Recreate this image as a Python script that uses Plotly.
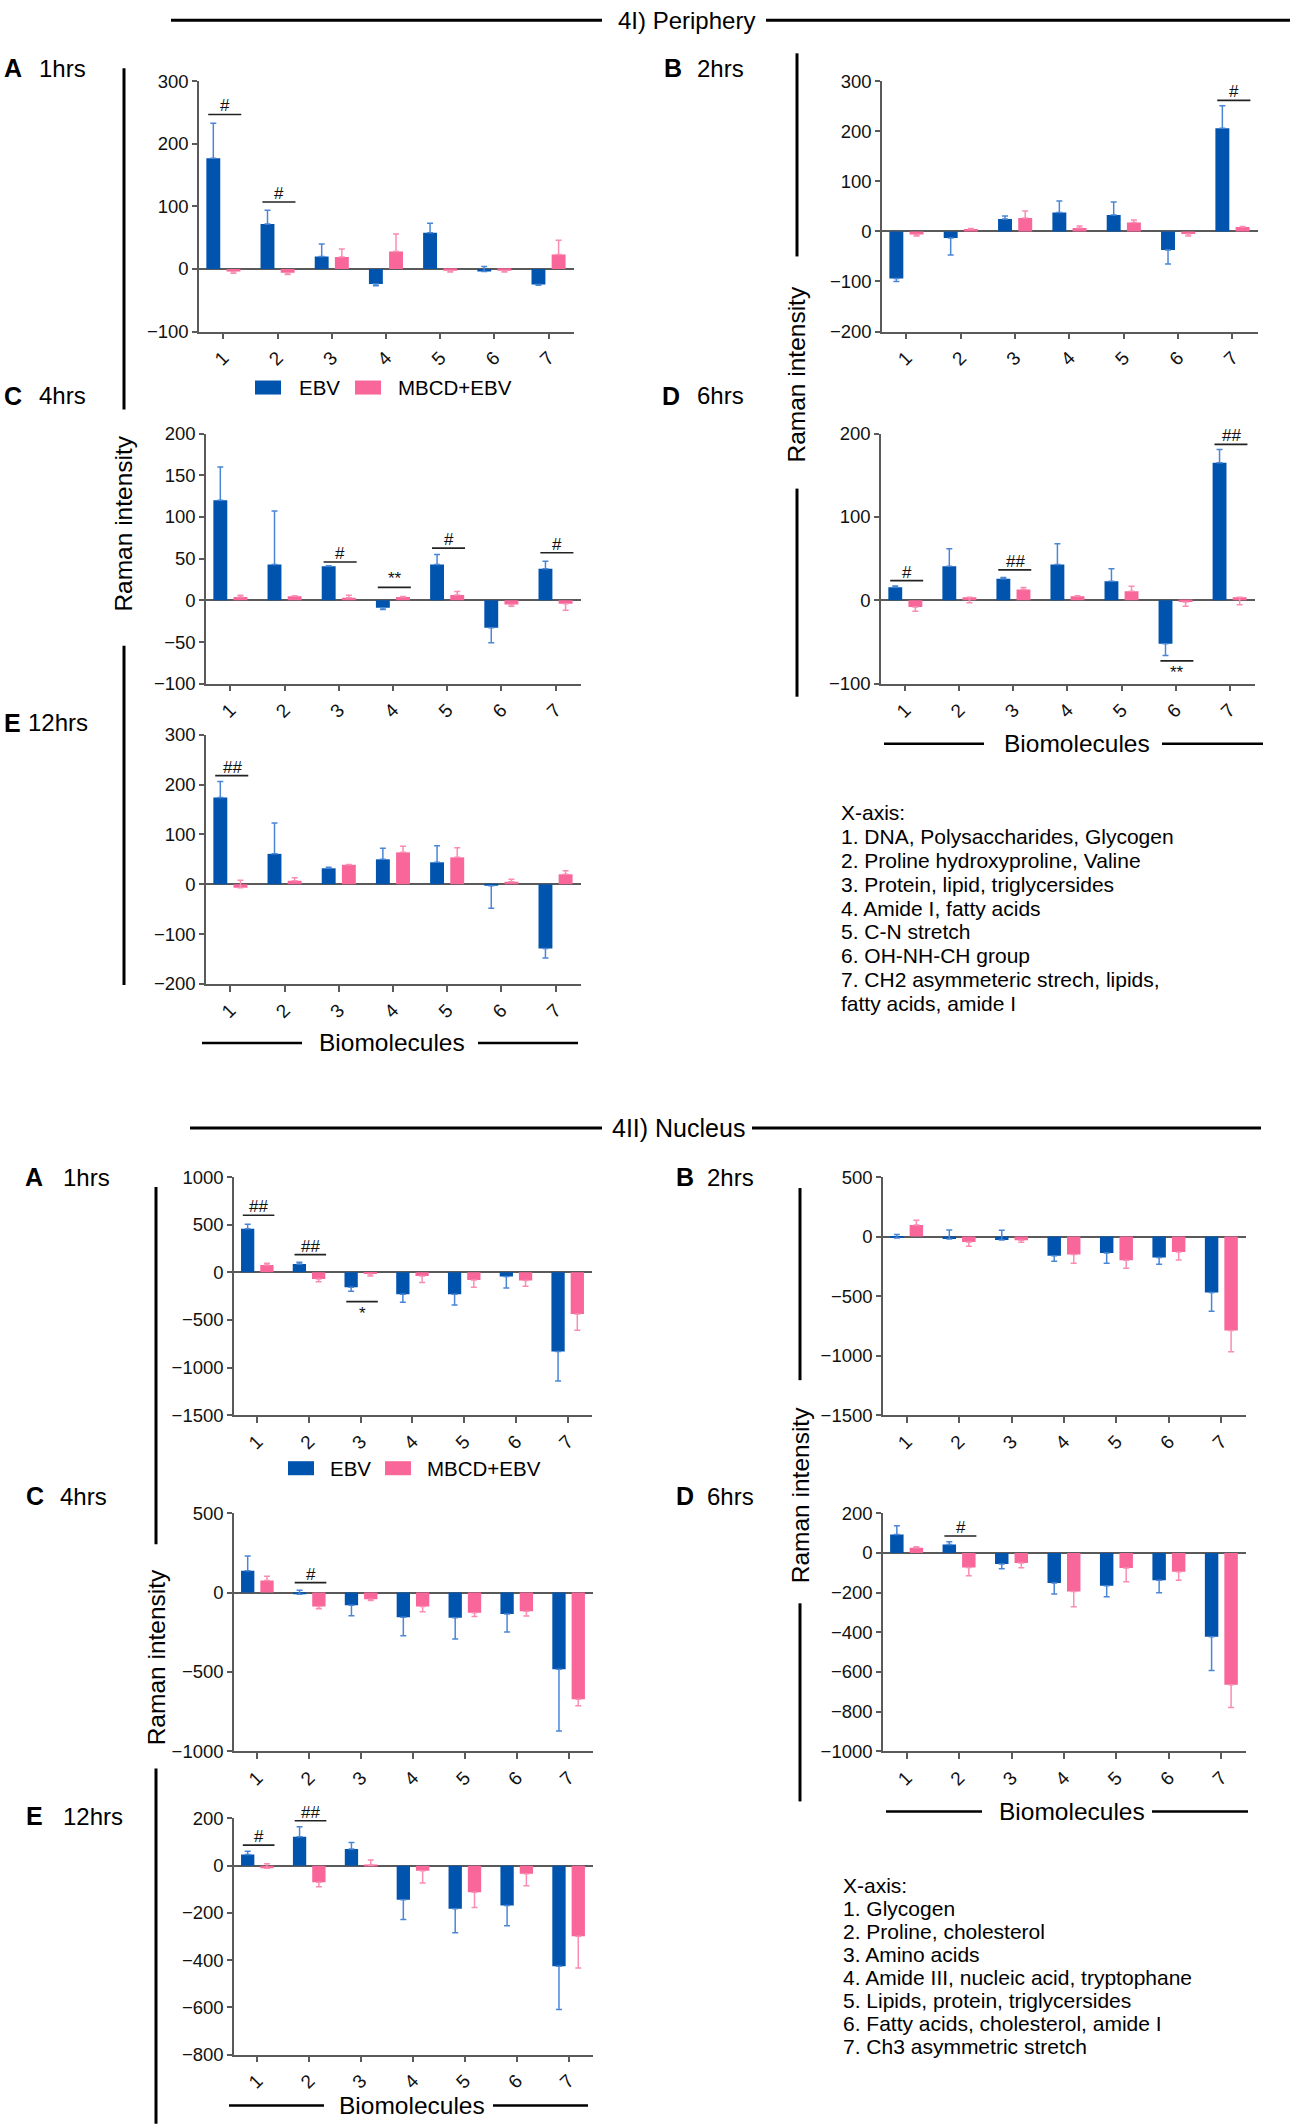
import plotly.graph_objects as go

# target canvas (reference) size
W, H = 1293, 2126
FW, FH = W, H
# measured vertical mapping of the page photo: shown_y = RS * fig_y + RO
RS, RO = 0.9895, 10.7

CATS = [1, 2, 3, 4, 5, 6, 7]
TICK_LABELS = ["1", "2", "3", "4", "5", "6", "7"]
SERIES = ["EBV", "MBCD+EBV"]

# ---------------- 4I) Periphery ----------------
PER_1H_EBV = [177, 72, 20, -24, 58, -4, -25]
PER_1H_EBV_ERR = [56, 22, 20, -3, 15, 8, -1]
PER_1H_MB = [-4, -6, 19, 28, -3, -3, 23]
PER_1H_MB_ERR = [-3, -3, 13, 28, -2, -2, 23]

PER_2H_EBV = [-94, -13, 25, 38, 33, -37, 206]
PER_2H_EBV_ERR = [-6, -34, 6, 23, 26, -28, 45]
PER_2H_MB = [-6, 5, 27, 7, 18, -5, 9]
PER_2H_MB_ERR = [-3, 1, 14, 4, 5, -4, 1]

PER_4H_EBV = [120, 43, 41, -9, 43, -33, 38]
PER_4H_EBV_ERR = [40, 64, 0.5, -2, 12, -18, 9]
PER_4H_MB = [4, 5, 3, 4, 6.5, -5, -4]
PER_4H_MB_ERR = [2, 0.5, 3, 0.5, 4, -2, -8]

PER_6H_EBV = [15.6, 41, 26, 43, 23, -52, 165]
PER_6H_EBV_ERR = [1.5, 21, 1.5, 25, 15, -14, 16]
PER_6H_MB = [-8, 3.6, 13, 5, 11, -2, 3.6]
PER_6H_MB_ERR = [-5, -6.6, 2.5, 0.6, 6, -5, -9]

PER_12H_EBV = [174, 61, 32, 50, 44, -3, -129]
PER_12H_EBV_ERR = [32, 62, 2, 22, 33, -45, -19]
PER_12H_MB = [-7, 7, 39, 64, 54, 5, 20]
PER_12H_MB_ERR = [15, 6, 0.5, 12, 19, 5, 7]

# ---------------- 4II) Nucleus ----------------
NUC_1H_EBV = [458, 87, -157, -231, -231, -45, -832]
NUC_1H_EBV_ERR = [46, 18, -42, -84, -112, -119, -308]
NUC_1H_MB = [77, -70, -18, -38, -80, -87, -437]
NUC_1H_MB_ERR = [17, -28, -20, -70, -77, -60, -171]

NUC_2H_EBV = [-12, -20, -28, -162, -137, -176, -470]
NUC_2H_EBV_ERR = [30, 76, 81, -45, -87, -56, -157]
NUC_2H_MB = [98, -45, -31, -151, -199, -129, -789]
NUC_2H_MB_ERR = [39, -36, -17, -73, -67, -67, -179]

NUC_4H_EBV = [138, -10, -80, -155, -159, -134, -483]
NUC_4H_EBV_ERR = [93, 25, -65, -116, -133, -114, -388]
NUC_4H_MB = [76, -88, -42, -88, -126, -117, -671]
NUC_4H_MB_ERR = [27, -13, -8, -32, -25, -30, -42]

NUC_6H_EBV = [93, 43, -56, -152, -165, -138, -422]
NUC_6H_EBV_ERR = [44, 13, -24, -55, -56, -63, -171]
NUC_6H_MB = [26, -73, -51, -194, -76, -95, -664]
NUC_6H_MB_ERR = [5, -42, -24, -77, -69, -43, -115]

NUC_12H_EBV = [47, 122, 71, -144, -182, -169, -426]
NUC_12H_EBV_ERR = [14, 43, 27, -84, -102, -85, -183]
NUC_12H_MB = [-11, -70, 2, -21, -113, -34, -299]
NUC_12H_MB_ERR = [19, -19, 22, -52, -64, -51, -134]

# significance marks: (category, label, bracket value, side)
SIG_PER_1H = [(1, "#", 247, "above"), (2, "#", 107, "above")]
SIG_PER_2H = [(7, "#", 262, "above")]
SIG_PER_4H = [(3, "#", 46, "above"), (4, "**", 15.6, "above"), (5, "#", 62.6, "above"),
              (7, "#", 57, "above")]
SIG_PER_6H = [(1, "#", 23.7, "above"), (3, "##", 36.5, "above"), (6, "**", -72.6, "below"),
              (7, "##", 187, "above")]
SIG_PER_12H = [(1, "##", 218, "above")]
SIG_NUC_1H = [(1, "##", 598, "above"), (2, "##", 185, "above"), (3, "*", -308, "below")]
SIG_NUC_2H = []
SIG_NUC_4H = [(2, "#", 63, "above")]
SIG_NUC_6H = [(2, "#", 85, "above")]
SIG_NUC_12H = [(1, "#", 87, "above"), (2, "##", 190, "above")]

LEGEND_I_X = ["1. DNA, Polysaccharides, Glycogen", "2. Proline hydroxyproline, Valine",
              "3. Protein, lipid, triglycersides", "4. Amide I, fatty acids", "5. C-N stretch",
              "6. OH-NH-CH group", "7. CH2 asymmeteric strech, lipids,", "fatty acids, amide I"]
LEGEND_II_X = ["1. Glycogen", "2. Proline, cholesterol", "3. Amino acids",
               "4. Amide III, nucleic acid, tryptophane", "5. Lipids, protein, triglycersides",
               "6. Fatty acids, cholesterol, amide I", "7. Ch3 asymmetric stretch"]

# ---------------- styling ----------------
BLUE = "#0054ae"
PINK = "#f8669a"
BLUE_ERR = "#4a86d6"
PINK_ERR = "#f98db2"
AX = "#5a5a5a"
FONT = "Liberation Sans, Arial, sans-serif"
TXT = "#111111"

panels = [
    dict(e=PER_1H_EBV, ee=PER_1H_EBV_ERR, m=PER_1H_MB, me=PER_1H_MB_ERR, sig=SIG_PER_1H,
         box=(199, 574, 81, 331), yr=(-100, 300), dt=100),
    dict(e=PER_2H_EBV, ee=PER_2H_EBV_ERR, m=PER_2H_MB, me=PER_2H_MB_ERR, sig=SIG_PER_2H,
         box=(882, 1258, 81, 331), yr=(-200, 300), dt=100),
    dict(e=PER_4H_EBV, ee=PER_4H_EBV_ERR, m=PER_4H_MB, me=PER_4H_MB_ERR, sig=SIG_PER_4H,
         box=(206, 581, 433, 683), yr=(-100, 200), dt=50),
    dict(e=PER_6H_EBV, ee=PER_6H_EBV_ERR, m=PER_6H_MB, me=PER_6H_MB_ERR, sig=SIG_PER_6H,
         box=(881, 1255, 433, 683), yr=(-100, 200), dt=100),
    dict(e=PER_12H_EBV, ee=PER_12H_EBV_ERR, m=PER_12H_MB, me=PER_12H_MB_ERR, sig=SIG_PER_12H,
         box=(206, 581, 734, 983), yr=(-200, 300), dt=100),
    dict(e=NUC_1H_EBV, ee=NUC_1H_EBV_ERR, m=NUC_1H_MB, me=NUC_1H_MB_ERR, sig=SIG_NUC_1H,
         box=(234, 592, 1176, 1414), yr=(-1500, 1000), dt=500),
    dict(e=NUC_2H_EBV, ee=NUC_2H_EBV_ERR, m=NUC_2H_MB, me=NUC_2H_MB_ERR, sig=SIG_NUC_2H,
         box=(883, 1246, 1176, 1414), yr=(-1500, 500), dt=500),
    dict(e=NUC_4H_EBV, ee=NUC_4H_EBV_ERR, m=NUC_4H_MB, me=NUC_4H_MB_ERR, sig=SIG_NUC_4H,
         box=(234, 593, 1512, 1750), yr=(-1000, 500), dt=500),
    dict(e=NUC_6H_EBV, ee=NUC_6H_EBV_ERR, m=NUC_6H_MB, me=NUC_6H_MB_ERR, sig=SIG_NUC_6H,
         box=(883, 1246, 1512, 1750), yr=(-1000, 200), dt=200),
    dict(e=NUC_12H_EBV, ee=NUC_12H_EBV_ERR, m=NUC_12H_MB, me=NUC_12H_MB_ERR, sig=SIG_NUC_12H,
         box=(234, 593, 1817, 2053), yr=(-800, 200), dt=200),
]


def px(x):
    return x / FW


def py(y):
    return 1 - ((y - RO) / RS) / FH


def err_dict(errs, color):
    return dict(type="data", symmetric=False,
                array=[e if e > 0 else 0 for e in errs],
                arrayminus=[-e if e < 0 else 0 for e in errs],
                color=color, thickness=1.5, width=3)


fig = go.Figure()
layout = {}
shapes = []
annotations = []

for i, p in enumerate(panels):
    n = i + 1
    sfx = "" if n == 1 else str(n)
    xa, ya = "x" + sfx, "y" + sfx
    for name, vals, errs, col, ecol in ((SERIES[0], p["e"], p["ee"], BLUE, BLUE_ERR),
                                       (SERIES[1], p["m"], p["me"], PINK, PINK_ERR)):
        fig.add_trace(go.Bar(x=CATS, y=vals, name=name, marker=dict(color=col, line=dict(width=0)),
                             error_y=err_dict(errs, ecol), xaxis=xa, yaxis=ya,
                             showlegend=False, hoverinfo="x+y+name"))
    l, r, t, b = p["box"]
    y0, y1 = p["yr"]
    layout["xaxis" + sfx] = dict(domain=[px(l), px(r)], anchor=ya, range=[0.55, 7.47],
                                 tickmode="array", tickvals=CATS, ticktext=TICK_LABELS,
                                 tickangle=-45, ticks="outside", ticklen=6, tickwidth=1.5,
                                 tickcolor=AX, showline=True, linecolor=AX, linewidth=1.5,
                                 showgrid=False, zeroline=False, fixedrange=True,
                                 tickfont=dict(family=FONT, size=19, color=TXT))
    layout["yaxis" + sfx] = dict(domain=[py(b), py(t)], anchor=xa, range=[y0, y1],
                                 tickmode="array", tickvals=list(range(y0, y1 + 1, p["dt"])),
                                 ticks="outside", ticklen=5, tickwidth=1.5, tickcolor=AX,
                                 showline=True, linecolor=AX, linewidth=1.5, showgrid=False,
                                 zeroline=True, zerolinecolor=AX, zerolinewidth=1.5,
                                 fixedrange=True,
                                 tickfont=dict(family=FONT, size=18.5, color=TXT))
    for cat, lab, ly, side in p["sig"]:
        shapes.append(dict(type="line", xref=xa, yref=ya, x0=cat - 0.28, x1=cat + 0.33,
                           y0=ly, y1=ly, line=dict(color="#222222", width=1.6)))
        above = side == "above"
        annotations.append(dict(xref=xa, yref=ya, x=cat + 0.03, y=ly, text=lab, showarrow=False,
                                xanchor="center", yanchor="bottom" if above else "top",
                                yshift=-3 if above else 0,
                                font=dict(family=FONT, size=17, color=TXT)))


def hline(x0, x1, y, w=3):
    shapes.append(dict(type="line", xref="paper", yref="paper", x0=px(x0), x1=px(x1),
                       y0=py(y), y1=py(y), line=dict(color="black", width=w)))


def vline(x, y0, y1, w=3):
    shapes.append(dict(type="line", xref="paper", yref="paper", x0=px(x), x1=px(x),
                       y0=py(y0), y1=py(y1), line=dict(color="black", width=w)))


def text(x, y, s, size, xanchor="left", angle=0, bold=False):
    annotations.append(dict(xref="paper", yref="paper", x=px(x), y=py(y),
                            text=("<b>%s</b>" % s) if bold else s, showarrow=False,
                            xanchor=xanchor, yanchor="middle", textangle=angle,
                            font=dict(family=FONT, size=size, color="black")))


# section titles
hline(171, 602, 20)
hline(766, 1290, 20)
text(686, 20, "4I) Periphery", 24, "center")
hline(190, 602, 1127)
hline(752, 1261, 1127)
text(679, 1127, "4II) Nucleus", 25, "center")

# panel labels
for lx, hx, y, L, hrs in [(2, 37, 68, "A", "1hrs"), (662, 695, 68, "B", "2hrs"),
                          (2, 37, 395, "C", "4hrs"), (660, 695, 395, "D", "6hrs"),
                          (2, 26, 722, "E", "12hrs"),
                          (23, 61, 1176, "A", "1hrs"), (674, 705, 1176, "B", "2hrs"),
                          (24, 58, 1495, "C", "4hrs"), (674, 705, 1495, "D", "6hrs"),
                          (24, 61, 1815, "E", "12hrs")]:
    text(lx, y, L, 25, bold=True)
    text(hx, y, hrs, 24)

# column bars and y titles
vline(124, 68, 409)
vline(124, 645, 984)
text(124, 523, "Raman intensity", 24.5, "center", -90)
vline(797, 53, 256)
vline(797, 488, 696)
text(797, 374, "Raman intensity", 24.5, "center", -90)
vline(156, 1186, 1543)
vline(156, 1767, 2122)
text(156, 1656, "Raman intensity", 24.5, "center", -90)
vline(800, 1187, 1379)
vline(800, 1602, 1800)
text(800, 1494, "Raman intensity", 24.5, "center", -90)

# Biomolecules x titles
for cx, y, a0, a1, b0, b1 in [(1077, 743, 884, 984, 1162, 1263), (392, 1042, 202, 302, 478, 578),
                              (1072, 1810, 886, 982, 1152, 1248), (412, 2104, 229, 324, 493, 588)]:
    text(cx, y, "Biomolecules", 24.5, "center")
    hline(a0, a1, y, 2.5)
    hline(b0, b1, y, 2.5)

# legends
for y, bx, ex, pxx, mx in [(387, 255, 297, 355, 396), (1467, 288, 328, 385, 425)]:
    shapes.append(dict(type="rect", xref="paper", yref="paper", x0=px(bx), x1=px(bx + 26),
                       y0=py(y + 7), y1=py(y - 7), fillcolor=BLUE, line=dict(width=0)))
    text(ex, y, SERIES[0], 20.5)
    shapes.append(dict(type="rect", xref="paper", yref="paper", x0=px(pxx), x1=px(pxx + 26),
                       y0=py(y + 7), y1=py(y - 7), fillcolor=PINK, line=dict(width=0)))
    text(mx, y, SERIES[1], 20.5)

# x-axis keys
text(839, 812, "X-axis:", 21)
for k, s in enumerate(LEGEND_I_X):
    text(839, 812 + 23.8 * (k + 1), s, 21)
text(841, 1884, "X-axis:", 21)
for k, s in enumerate(LEGEND_II_X):
    text(841, 1884 + 23 * (k + 1), s, 21)

fig.update_layout(
    width=FW, height=FH, autosize=False,
    margin=dict(l=0, r=0, t=0, b=0, pad=0),
    paper_bgcolor="white", plot_bgcolor="white",
    barmode="group", bargap=0.256, bargroupgap=0.31,
    shapes=shapes, annotations=annotations,
    font=dict(family=FONT, color=TXT),
    **layout,
)

# pin the plot div to the top-left corner of the page (no body margin)
PIN_JS = ("document.body.style.margin='0px';document.body.style.padding='0px';"
          "document.body.style.overflow='hidden';"
          "var d=document.getElementById('{plot_id}');"
          "d.style.position='absolute';d.style.left='0px';d.style.top='0px';")

fig.write_html("out.html", post_script=PIN_JS, config={"displayModeBar": False})
